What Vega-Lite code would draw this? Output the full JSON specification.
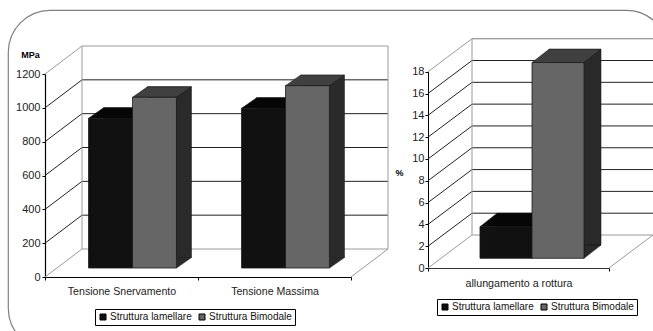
{
  "$schema": "https://vega.github.io/schema/vega-lite/v6.json",
  "width": 660,
  "height": 340,
  "autosize": "none",
  "padding": {"left": 8, "top": 10, "right": 0, "bottom": 0},
  "background": "#ffffff",
  "view": {"stroke": "#808080", "strokeWidth": 1.2, "cornerRadius": 42, "fill": "#ffffff"},
  "config": {
    "font": "Liberation Sans",
    "legend": {
      "orient": "none", "direction": "horizontal", "title": null, "symbolType": "square", "symbolSize": 36,
      "symbolStrokeColor": "#000000", "symbolStrokeWidth": 1, "symbolOpacity": 1,
      "labelFontSize": 10, "labelColor": "#111111", "labelOffset": 2, "columnPadding": 5,
      "strokeColor": "#000000", "strokeWidth": 1, "padding": 3, "fillColor": "#ffffff"
    }
  },
  "datasets": {
    "strength": [
      {"prova": "Tensione Snervamento", "struttura": "Struttura lamellare", "valore": 885},
      {"prova": "Tensione Snervamento", "struttura": "Struttura Bimodale", "valore": 1009},
      {"prova": "Tensione Massima", "struttura": "Struttura lamellare", "valore": 944},
      {"prova": "Tensione Massima", "struttura": "Struttura Bimodale", "valore": 1078}
    ],
    "elongation": [
      {"prova": "allungamento a rottura", "struttura": "Struttura lamellare", "valore": 2.9},
      {"prova": "allungamento a rottura", "struttura": "Struttura Bimodale", "valore": 17.95}
    ],
    "mpaTicks": [{"tick": 0}, {"tick": 200}, {"tick": 400}, {"tick": 600}, {"tick": 800}, {"tick": 1000}, {"tick": 1200}],
    "pctTicks": [{"tick": 0}, {"tick": 2}, {"tick": 4}, {"tick": 6}, {"tick": 8}, {"tick": 10}, {"tick": 12}, {"tick": 14}, {"tick": 16}, {"tick": 18}]
  },
  "layer": [
    {
      "resolve": {
        "scale": {"x": "independent", "y": "independent", "xOffset": "independent"},
        "axis": {"x": "independent", "y": "independent"}
      },
      "layer": [
        {
          "data": {"name": "mpaTicks"},
          "mark": {"type": "point", "shape": "M-76.5 0L-39.5 -28L266.5 -28", "size": 4, "filled": false, "opacity": 1, "strokeWidth": 1},
          "encoding": {
            "x": {"datum": "Tensione Snervamento", "type": "nominal", "title": null,
              "scale": {"type": "band", "domain": ["Tensione Snervamento", "Tensione Massima"], "range": [37, 343], "paddingInner": 0, "paddingOuter": 0},
              "axis": {"orient": "bottom", "offset": -73, "tickBand": "extent", "labelAngle": 0, "labelFontSize": 10.6, "labelColor": "#222222", "labelPadding": 6, "tickSize": 3, "tickColor": "#000000", "domainColor": "#000000", "domainWidth": 1.2, "grid": false}},
            "y": {"field": "tick", "type": "quantitative", "title": "MPa",
              "scale": {"domain": [0, 1200], "range": [267, 64], "nice": false, "zero": true},
              "axis": {"orient": "left", "offset": -37, "values": [0, 200, 400, 600, 800, 1000, 1200], "format": "d", "labelOverlap": false, "labelFontSize": 11, "labelColor": "#222222", "labelPadding": 2, "tickSize": 3, "tickColor": "#000000", "domainColor": "#000000", "domainWidth": 1.2, "grid": false,
                "titleAngle": 0, "titleX": -15, "titleY": 44, "titleAlign": "center", "titleBaseline": "middle", "titleFontSize": 9, "titleFontWeight": "bold", "titleColor": "#000000"}},
            "stroke": {"condition": {"test": "datum.tick === 0 || datum.tick === 1200", "value": "#9a9a9a"}, "value": "#222222"}
          }
        },
        {
          "data": {"name": "mpaTicks"},
          "transform": [{"filter": "datum.tick === 0"}],
          "mark": {"type": "point", "shape": "M-39.5 -28L-39.5 -231M266.5 -28L266.5 -231M229.5 0L266.5 -28", "size": 4, "filled": false, "opacity": 1, "stroke": "#9a9a9a", "strokeWidth": 1},
          "encoding": {
            "x": {"datum": "Tensione Snervamento", "type": "nominal", "axis": null, "scale": {"type": "band", "domain": ["Tensione Snervamento", "Tensione Massima"], "range": [37, 343], "paddingInner": 0, "paddingOuter": 0}},
            "y": {"field": "tick", "type": "quantitative", "axis": null, "scale": {"domain": [0, 1200], "range": [267, 64], "nice": false, "zero": true}}
          }
        },
        {
          "data": {"name": "strength"},
          "mark": {"type": "bar", "stroke": "#111111", "strokeWidth": 0.5},
          "encoding": {
            "x": {"field": "prova", "type": "nominal", "axis": null, "scale": {"type": "band", "domain": ["Tensione Snervamento", "Tensione Massima"], "range": [63, 369], "paddingInner": 0, "paddingOuter": 0}},
            "xOffset": {"field": "struttura", "type": "nominal", "scale": {"type": "band", "domain": ["Struttura lamellare", "Struttura Bimodale"], "paddingInner": 0, "paddingOuter": 0.74}},
            "y": {"field": "valore", "type": "quantitative", "axis": null, "stack": null, "scale": {"domain": [0, 1200], "range": [247.5, 44.5], "nice": false, "zero": true}},
            "fill": {"condition": {"test": "datum.struttura === 'Struttura Bimodale'", "value": "#2a2a2a"}, "value": "#0a0a0a"}
          }
        },
        {
          "data": {"name": "strength"},
          "mark": {"type": "point", "shape": "M33 -9L48 -19.5L33 -19.5Z", "size": 4, "filled": true, "opacity": 1, "strokeWidth": 0.5, "stroke": "#111111"},
          "encoding": {
            "x": {"field": "prova", "type": "nominal", "axis": null, "scale": {"type": "band", "domain": ["Tensione Snervamento", "Tensione Massima"], "range": [37, 343], "paddingInner": 0, "paddingOuter": 0}},
            "xOffset": {"field": "struttura", "type": "nominal", "scale": {"type": "band", "domain": ["Struttura lamellare", "Struttura Bimodale"], "paddingInner": 0, "paddingOuter": 0.74}},
            "y": {"datum": 0, "type": "quantitative", "axis": null, "scale": {"domain": [0, 1200], "range": [267, 64], "nice": false, "zero": true}},
            "fill": {"condition": {"test": "datum.struttura === 'Struttura Bimodale'", "value": "#2a2a2a"}, "value": "#0a0a0a"}
          }
        },
        {
          "data": {"name": "strength"},
          "mark": {"type": "point", "shape": "M-11 -9L33 -9L48 -19.5L4 -19.5Z", "size": 4, "filled": true, "opacity": 1, "strokeWidth": 0.5, "stroke": "#111111"},
          "encoding": {
            "x": {"field": "prova", "type": "nominal", "axis": null, "scale": {"type": "band", "domain": ["Tensione Snervamento", "Tensione Massima"], "range": [37, 343], "paddingInner": 0, "paddingOuter": 0}},
            "xOffset": {"field": "struttura", "type": "nominal", "scale": {"type": "band", "domain": ["Struttura lamellare", "Struttura Bimodale"], "paddingInner": 0, "paddingOuter": 0.74}},
            "y": {"field": "valore", "type": "quantitative", "axis": null, "scale": {"domain": [0, 1200], "range": [267, 64], "nice": false, "zero": true}},
            "fill": {"condition": {"test": "datum.struttura === 'Struttura Bimodale'", "value": "#404040"}, "value": "#060606"}
          }
        },
        {
          "data": {"name": "strength"},
          "mark": {"type": "bar", "stroke": "#1a1a1a", "strokeWidth": 0.8},
          "encoding": {
            "x": {"field": "prova", "type": "nominal", "axis": null, "scale": {"type": "band", "domain": ["Tensione Snervamento", "Tensione Massima"], "range": [48, 354], "paddingInner": 0, "paddingOuter": 0}},
            "xOffset": {"field": "struttura", "type": "nominal", "scale": {"type": "band", "domain": ["Struttura lamellare", "Struttura Bimodale"], "paddingInner": 0, "paddingOuter": 0.74}},
            "y": {"field": "valore", "type": "quantitative", "axis": null, "stack": null, "scale": {"domain": [0, 1200], "range": [258, 55], "nice": false, "zero": true}},
            "fill": {"field": "struttura", "type": "nominal", "scale": {"domain": ["Struttura lamellare", "Struttura Bimodale"], "range": ["#111111", "#666666"]},
              "legend": {"legendX": 87, "legendY": 299}}
          }
        }
      ]
    },
    {
      "resolve": {
        "scale": {"x": "independent", "y": "independent", "xOffset": "independent"},
        "axis": {"x": "independent", "y": "independent"}
      },
      "layer": [
        {
          "data": {"name": "pctTicks"},
          "mark": {"type": "point", "shape": "M-90.5 0L-46.5 -33L140 -33", "size": 4, "filled": false, "opacity": 1, "strokeWidth": 1},
          "encoding": {
            "x": {"datum": "allungamento a rottura", "type": "nominal", "title": null,
              "scale": {"type": "band", "domain": ["allungamento a rottura"], "range": [420, 601], "paddingInner": 0, "paddingOuter": 0},
              "axis": {"orient": "bottom", "offset": -82, "tickBand": "extent", "labelAngle": 0, "labelFontSize": 10.7, "labelColor": "#222222", "labelPadding": 7, "tickSize": 3, "tickColor": "#000000", "domainColor": "#333333", "domainWidth": 1, "grid": false}},
            "y": {"field": "tick", "type": "quantitative", "title": "%",
              "scale": {"domain": [0, 18], "range": [258, 61.7], "nice": false, "zero": true},
              "axis": {"orient": "left", "offset": -420, "values": [0, 2, 4, 6, 8, 10, 12, 14, 16, 18], "format": "d", "labelOverlap": false, "labelFontSize": 11, "labelColor": "#222222", "labelPadding": 1, "tickSize": 3, "tickColor": "#000000", "domainColor": "#000000", "domainWidth": 1, "grid": false,
                "titleAngle": 0, "titleX": -29, "titleY": 162, "titleAlign": "center", "titleBaseline": "middle", "titleFontSize": 9, "titleFontWeight": "bold", "titleColor": "#000000"}},
            "stroke": {"condition": {"test": "datum.tick === 0 || datum.tick === 18", "value": "#9a9a9a"}, "value": "#222222"}
          }
        },
        {
          "data": {"name": "pctTicks"},
          "transform": [{"filter": "datum.tick === 0"}],
          "mark": {"type": "point", "shape": "M-46.5 -33L-46.5 -229.3L140 -229.3M90.5 0L134.5 -33", "size": 4, "filled": false, "opacity": 1, "stroke": "#9a9a9a", "strokeWidth": 1},
          "encoding": {
            "x": {"datum": "allungamento a rottura", "type": "nominal", "axis": null, "scale": {"type": "band", "domain": ["allungamento a rottura"], "range": [420, 601], "paddingInner": 0, "paddingOuter": 0}},
            "y": {"field": "tick", "type": "quantitative", "axis": null, "scale": {"domain": [0, 18], "range": [258, 61.7], "nice": false, "zero": true}}
          }
        },
        {
          "data": {"name": "elongation"},
          "mark": {"type": "bar", "stroke": "#111111", "strokeWidth": 0.5},
          "encoding": {
            "x": {"field": "prova", "type": "nominal", "axis": null, "scale": {"type": "band", "domain": ["allungamento a rottura"], "range": [450.5, 631.5], "paddingInner": 0, "paddingOuter": 0}},
            "xOffset": {"field": "struttura", "type": "nominal", "scale": {"type": "band", "domain": ["Struttura lamellare", "Struttura Bimodale"], "paddingInner": 0, "paddingOuter": 0.74}},
            "y": {"field": "valore", "type": "quantitative", "axis": null, "stack": null, "scale": {"domain": [0, 18], "range": [235, 38.7], "nice": false, "zero": true}},
            "fill": {"condition": {"test": "datum.struttura === 'Struttura Bimodale'", "value": "#2a2a2a"}, "value": "#0a0a0a"}
          }
        },
        {
          "data": {"name": "elongation"},
          "mark": {"type": "point", "shape": "M39.5 -9.7L56.5 -23L39.5 -23Z", "size": 4, "filled": true, "opacity": 1, "strokeWidth": 0.5, "stroke": "#111111"},
          "encoding": {
            "x": {"field": "prova", "type": "nominal", "axis": null, "scale": {"type": "band", "domain": ["allungamento a rottura"], "range": [420, 601], "paddingInner": 0, "paddingOuter": 0}},
            "xOffset": {"field": "struttura", "type": "nominal", "scale": {"type": "band", "domain": ["Struttura lamellare", "Struttura Bimodale"], "paddingInner": 0, "paddingOuter": 0.74}},
            "y": {"datum": 0, "type": "quantitative", "axis": null, "scale": {"domain": [0, 18], "range": [258, 61.7], "nice": false, "zero": true}},
            "fill": {"condition": {"test": "datum.struttura === 'Struttura Bimodale'", "value": "#2a2a2a"}, "value": "#0a0a0a"}
          }
        },
        {
          "data": {"name": "elongation"},
          "mark": {"type": "point", "shape": "M-12.5 -9.7L39.5 -9.7L56.5 -23L4.5 -23Z", "size": 4, "filled": true, "opacity": 1, "strokeWidth": 0.5, "stroke": "#111111"},
          "encoding": {
            "x": {"field": "prova", "type": "nominal", "axis": null, "scale": {"type": "band", "domain": ["allungamento a rottura"], "range": [420, 601], "paddingInner": 0, "paddingOuter": 0}},
            "xOffset": {"field": "struttura", "type": "nominal", "scale": {"type": "band", "domain": ["Struttura lamellare", "Struttura Bimodale"], "paddingInner": 0, "paddingOuter": 0.74}},
            "y": {"field": "valore", "type": "quantitative", "axis": null, "scale": {"domain": [0, 18], "range": [258, 61.7], "nice": false, "zero": true}},
            "fill": {"condition": {"test": "datum.struttura === 'Struttura Bimodale'", "value": "#404040"}, "value": "#060606"}
          }
        },
        {
          "data": {"name": "elongation"},
          "mark": {"type": "bar", "stroke": "#1a1a1a", "strokeWidth": 0.8},
          "encoding": {
            "x": {"field": "prova", "type": "nominal", "axis": null, "scale": {"type": "band", "domain": ["allungamento a rottura"], "range": [433.5, 614.5], "paddingInner": 0, "paddingOuter": 0}},
            "xOffset": {"field": "struttura", "type": "nominal", "scale": {"type": "band", "domain": ["Struttura lamellare", "Struttura Bimodale"], "paddingInner": 0, "paddingOuter": 0.74}},
            "y": {"field": "valore", "type": "quantitative", "axis": null, "stack": null, "scale": {"domain": [0, 18], "range": [248.3, 52], "nice": false, "zero": true}},
            "fill": {"field": "struttura", "type": "nominal", "scale": {"domain": ["Struttura lamellare", "Struttura Bimodale"], "range": ["#111111", "#666666"]},
              "legend": {"legendX": 429, "legendY": 289}}
          }
        }
      ]
    }
  ],
  "resolve": {
    "scale": {"x": "independent", "y": "independent", "xOffset": "independent", "fill": "independent"},
    "axis": {"x": "independent", "y": "independent"},
    "legend": {"fill": "independent"}
  }
}
